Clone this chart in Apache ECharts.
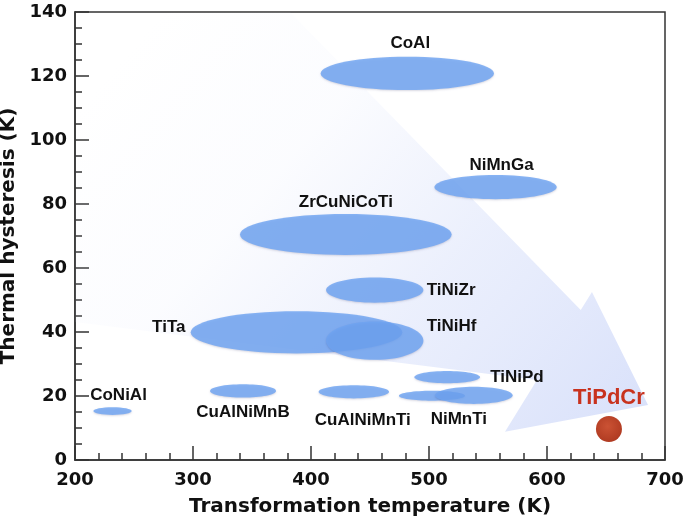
<!DOCTYPE html>
<html>
<head>
<meta charset="utf-8">
<script src="https://cdn.jsdelivr.net/npm/echarts@6/dist/echarts.min.js"></script>
<style>html,body{margin:0;padding:0;background:#fff}#c{width:685px;height:525px}</style>
</head>
<body>
<div id="c"></div>
<script>
// ---- data (K) ----
const alloys   = ['CoAl','NiMnGa','ZrCuNiCoTi','TiNiZr','TiTa','TiNiHf','TiNiPd','NiMnTi','NiMnTi','CuAlNiMnTi','CuAlNiMnB','CoNiAl'];
const tempK    = [481.6, 556.4, 429.5, 454.0, 387.7, 454.0, 515.4, 502.5, 538.0, 436.3, 342.4, 231.8];
const hystK    = [120.8, 85.3, 70.5, 53.1, 39.9, 37.3, 25.9, 20.1, 20.2, 21.3, 21.6, 15.3];
const tempSpan = [146.9, 103.7, 179.4, 82.5, 179.3, 82.5, 55.7, 56.0, 65.8, 59.7, 55.9, 32.5];
const hystSpan = [10.4, 7.6, 12.8, 7.9, 13.2, 12.0, 3.9, 3.1, 5.4, 4.1, 4.1, 2.4];
const showName = [true, true, true, true, true, true, true, false, true, true, true, true];

const newAlloy = ['TiPdCr'];
const newTemp  = [652.5];
const newHyst  = [9.7];

// trend arrow outline (K)
const arrowTemp = [200, 382.2, 628.6, 638.1, 685.6, 564.4, 591.5, 200];
const arrowHyst = [140, 140, 46.9, 52.5, 17.2, 8.8, 25.0, 43.1];

const xTicks = [200, 300, 400, 500, 600, 700];
const yTicks = [0, 20, 40, 60, 80, 100, 120, 140];

// ---- label layout (pixels, relative to ellipse centre) ----
const labelLayout = [
  [3, -30, 'center'], [6, -22, 'center'], [0, -32, 'center'], [52, 0, 'left'],
  [-111, -5, 'right'], [52, -14, 'left'], [43, 0, 'left'], [0, 0, 'center'],
  [-15, 24, 'center'], [9, 28, 'center'], [0, 21, 'center'], [6, -16, 'center']
];

const chart = echarts.init(document.getElementById('c'), null, {renderer: 'canvas'});
const axisFont = '"DejaVu Sans", sans-serif';
const lblFont = '"Liberation Sans", Arial, sans-serif';

const ellipseData = alloys.map((n, i) => [tempK[i], hystK[i], tempSpan[i], hystSpan[i], i]);

chart.setOption({
  animation: false,
  backgroundColor: '#fff',
  grid: {left: 75, right: 20, top: 12, bottom: 65, containLabel: false, outerBoundsMode: 'none',
         show: true, borderColor: '#333', borderWidth: 1.5, backgroundColor: 'transparent'},
  xAxis: {
    type: 'value', min: xTicks[0], max: xTicks[xTicks.length - 1], interval: 100,
    name: 'Transformation temperature (K)', nameLocation: 'middle', nameGap: 37,
    nameTextStyle: {fontFamily: axisFont, fontWeight: 'bold', fontSize: 20, color: '#111'},
    axisLine: {show: true, lineStyle: {color: '#333', width: 1.5}},
    axisTick: {show: true, inside: true, length: 14, lineStyle: {color: '#333', width: 1.5}},
    minorTick: {show: true, splitNumber: 5, length: 7, lineStyle: {color: '#333', width: 1.5}},
    splitLine: {show: false},
    axisLabel: {fontFamily: axisFont, fontWeight: 'bold', fontSize: 18, color: '#111', margin: 11}
  },
  yAxis: {
    type: 'value', min: yTicks[0], max: yTicks[yTicks.length - 1], interval: 20,
    name: 'Thermal hysteresis (K)', nameLocation: 'middle', nameGap: 47,
    nameTextStyle: {fontFamily: axisFont, fontWeight: 'bold', fontSize: 20, color: '#111'},
    axisLine: {show: true, lineStyle: {color: '#333', width: 1.5}},
    axisTick: {show: true, inside: true, length: 14, lineStyle: {color: '#333', width: 1.5}},
    minorTick: {show: true, splitNumber: 4, length: 7, lineStyle: {color: '#333', width: 1.5}},
    splitLine: {show: false},
    axisLabel: {fontFamily: axisFont, fontWeight: 'bold', fontSize: 18, color: '#111', margin: 8}
  },
  series: [
    {
      type: 'custom', z: 1, silent: true,
      data: [[0]],
      renderItem: function (params, api) {
        const pts = arrowTemp.map((t, i) => api.coord([t, arrowHyst[i]]));
        return {
          type: 'polygon',
          shape: {points: pts},
          style: {
            fill: new echarts.graphic.LinearGradient(0.15, 0, 1, 1, [
              {offset: 0, color: 'rgba(224,230,251,0)'},
              {offset: 0.3, color: 'rgba(224,230,251,0.12)'},
              {offset: 0.6, color: 'rgba(222,229,251,0.6)'},
              {offset: 1, color: 'rgba(216,224,250,1)'}
            ])
          }
        };
      }
    },
    {
      type: 'custom', z: 3,
      data: ellipseData,
      renderItem: function (params, api) {
        const i = api.value(4);
        const c = api.coord([api.value(0), api.value(1)]);
        const s = api.size([api.value(2), api.value(3)]);
        const children = [{
          type: 'ellipse',
          shape: {cx: c[0], cy: c[1], rx: s[0] / 2, ry: s[1] / 2},
          style: {fill: 'rgba(110,164,242,0.82)', shadowBlur: 2, shadowColor: 'rgba(0,0,60,0.18)', shadowOffsetY: 1}
        }];
        if (showName[i]) {
          const L = labelLayout[i];
          children.push({
            type: 'text',
            style: {
              text: alloys[i], x: c[0] + L[0], y: c[1] + L[1],
              align: L[2], verticalAlign: 'middle',
              fontFamily: lblFont, fontWeight: 'bold', fontSize: 17, fill: '#111'
            }
          });
        }
        return {type: 'group', children: children};
      }
    },
    {
      type: 'scatter', z: 4,
      data: newAlloy.map((n, i) => ({name: n, value: [newTemp[i], newHyst[i]]})),
      symbol: 'circle', symbolSize: 26,
      itemStyle: {
        opacity: 1,
        color: new echarts.graphic.RadialGradient(0.45, 0.4, 0.6, [
          {offset: 0, color: '#cb5234'}, {offset: 1, color: '#b03b22'}
        ])
      },
      label: {
        show: true, position: 'top', distance: 7, formatter: '{b}', opacity: 1,
        fontFamily: lblFont, fontWeight: 'bold', fontSize: 22, color: '#c8321e'
      }
    }
  ]
});
</script>
</body>
</html>
